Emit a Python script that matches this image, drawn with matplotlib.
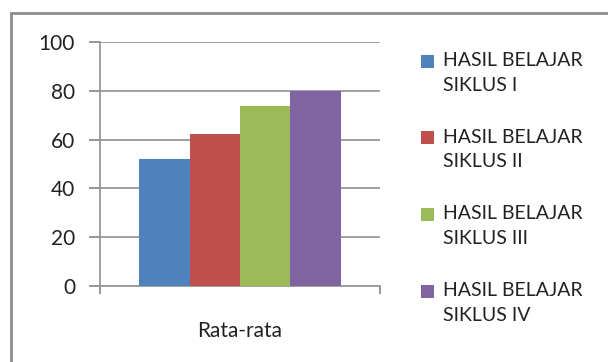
import matplotlib
matplotlib.use("Agg")
import matplotlib.pyplot as plt
from matplotlib.patches import Rectangle

plt.rcParams['font.family'] = ['Lato', 'DejaVu Sans']

categories = ["Rata-rata"]
series_names = ["HASIL BELAJAR\nSIKLUS I", "HASIL BELAJAR\nSIKLUS II",
                "HASIL BELAJAR\nSIKLUS III", "HASIL BELAJAR\nSIKLUS IV"]
series_values = [52, 62.3, 73.7, 80]
colors = ["#4F81BD", "#C0504D", "#9BBB59", "#8064A2"]
y_ticks = [0, 20, 40, 60, 80, 100]

W, H = 608, 362
fig = plt.figure(figsize=(W / 100, H / 100), dpi=100)
fig.patch.set_facecolor("white")

# outer chart frame (runs off the right and bottom edges)
fig.add_artist(Rectangle((10.5 / W, -0.05), 1.1, (H - 13) / H + 0.05,
                         transform=fig.transFigure, fill=False,
                         edgecolor="#8c8c8c", linewidth=2.0))

ax = fig.add_axes([100 / W, 1 - 286 / H, 280 / W, 244 / H])
bar_w = 0.18
n = len(series_values)
for i, (v, c) in enumerate(zip(series_values, colors)):
    x = (i - (n - 1) / 2) * bar_w
    ax.bar(x, v, width=bar_w, color=c, zorder=3)

ax.set_xlim(-0.5, 0.5)
ax.set_ylim(0, 100)
ax.set_yticks(y_ticks)
ax.set_yticklabels([str(t) for t in y_ticks], fontsize=15, color="#222222")
ax.set_xticks([0])
ax.set_xticklabels(categories, fontsize=15, color="#222222")
ax.tick_params(axis="x", length=0, pad=25)
ax.tick_params(axis="y", length=8, width=1.3, color="#8c8c8c", pad=10)

# category boundary ticks on the x axis
ax.set_xticks([-0.5, 0.5], minor=True)
ax.tick_params(axis="x", which="minor", length=6, width=1.3, color="#8c8c8c")

ax.grid(axis="y", color="#999999", linewidth=1.3, zorder=0)
for s in ["top", "right"]:
    ax.spines[s].set_visible(False)
for s in ["left", "bottom"]:
    ax.spines[s].set_color("#999999")
    ax.spines[s].set_linewidth(1.3)

# legend: square key aligned with the first line of each label
entry_top = [62, 138.5, 215, 292]
for name, c, yc in zip(series_names, colors, entry_top):
    fig.add_artist(Rectangle((421 / W, 1 - (yc + 6) / H), 13 / W, 13 / H,
                             transform=fig.transFigure, facecolor=c,
                             edgecolor="none"))
    fig.text(443 / W, 1 - (yc - 10) / H, name, fontsize=14, color="#222222",
             va="top", ha="left", linespacing=1.55)

fig.savefig("out.png", dpi=100, facecolor="white")
